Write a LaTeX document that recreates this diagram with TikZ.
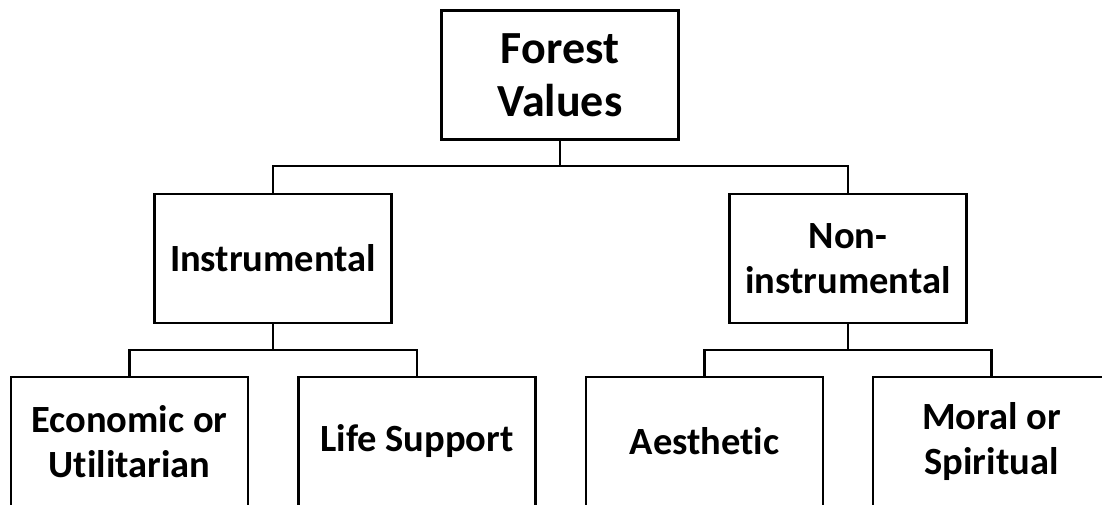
\documentclass[tikz,border=0pt]{standalone}
\usepackage{fontspec}
\setmainfont[Ligatures={NoCommon}]{Carlito}
\begin{document}
\begin{tikzpicture}[x=1pt,y=-1pt,
  box/.style={draw, line width=2.5pt, minimum width=237pt, minimum height=129pt, align=center, inner sep=0pt, font=\bfseries\fontsize{38.5}{45}\selectfont},
  topbox/.style={box, font=\bfseries\fontsize{46}{53}\selectfont},
  conn/.style={line width=2.5pt}]
\useasboundingbox (0,0) rectangle (1102,504);
\clip (0,0) rectangle (1102,504);
\node[topbox] (fv) at (560,75) {Forest\\Values};
\node[box] (ins) at (273,258.5) {Instrumental};
\node[box] (non) at (848,258.5) {Non-\\instrumental};
\node[box] (eco) at (129.5,441.5) {Economic or\\Utilitarian};
\node[box] (life) at (417,441.5) {Life Support};
\node[box] (aes) at (704.5,441.5) {Aesthetic};
\node[box] (mor) at (991.5,441.5) {Moral or\\Spiritual};
\coordinate (b1) at (560,166);
\coordinate (b2) at (273,350);
\coordinate (b3) at (848,350);
\draw[conn] (fv.south) -- (b1) -| (ins.north);
\draw[conn] (b1) -| (non.north);
\draw[conn] (ins.south) -- (b2) -| (eco.north);
\draw[conn] (b2) -| (life.north);
\draw[conn] (non.south) -- (b3) -| (aes.north);
\draw[conn] (b3) -| (mor.north);
\end{tikzpicture}
\end{document}
